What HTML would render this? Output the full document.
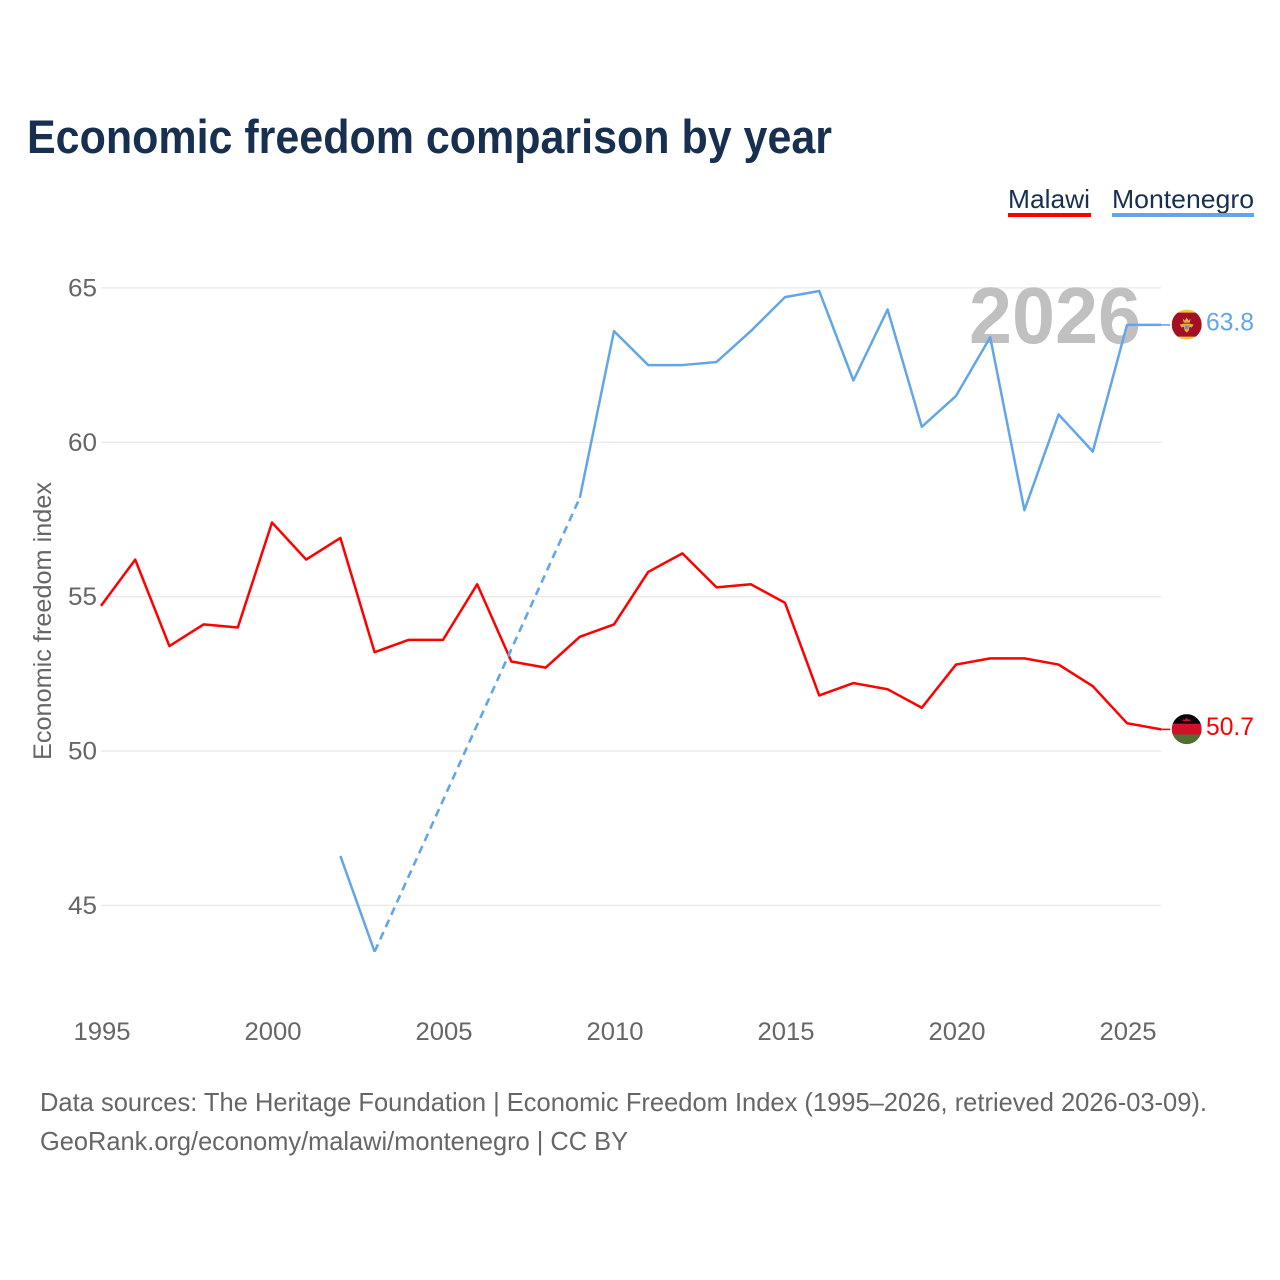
<!DOCTYPE html>
<html lang="en">
<head>
<meta charset="utf-8">
<title>Economic freedom comparison by year</title>
<style>
html,body{margin:0;padding:0;background:#fff;}
svg{display:block;}
text{font-family:"Liberation Sans",sans-serif;}
</style>
</head>
<body>
<svg id="chart" width="1280" height="1280" viewBox="0 0 1280 1280" xmlns="http://www.w3.org/2000/svg">
  <defs>
    <clipPath id="flag-clip"><circle cx="0" cy="0" r="15"></circle></clipPath>
  </defs>
  <rect x="0" y="0" width="1280" height="1280" fill="#ffffff"></rect>
  <text x="27" y="153" font-size="47" font-weight="700" fill="#18304f" textLength="805" lengthAdjust="spacingAndGlyphs">Economic freedom comparison by year</text>

  <g>
    <g>
      <text x="1008" y="208" font-size="26" fill="#18304f" textLength="82" lengthAdjust="spacingAndGlyphs">Malawi</text>
      <rect x="1008" y="213" width="83" height="4" fill="#ff0000"></rect>
    </g>
    <g>
      <text x="1112" y="208" font-size="26" fill="#18304f" textLength="142" lengthAdjust="spacingAndGlyphs">Montenegro</text>
      <rect x="1112" y="213" width="142" height="4" fill="#62a6e9"></rect>
    </g>
  </g>

  <g id="grid"></g>
  <g id="y-axis"></g>
  <g id="x-axis"></g>
  <text transform="translate(51 760) rotate(-90)" x="0" y="0" font-size="25" fill="#666666" textLength="278" lengthAdjust="spacingAndGlyphs">Economic freedom index</text>

  <text x="969" y="343" font-size="80" font-weight="700" fill="#c0c0c0" textLength="172" lengthAdjust="spacingAndGlyphs">2026</text>

  <g id="series"></g>

  <g id="flag-montenegro">
    <g clip-path="url(#flag-clip)">
      <rect x="-15" y="-15" width="30" height="30" fill="#f0c63c"></rect>
      <rect x="-15" y="-12" width="30" height="24" fill="#a50f26"></rect>
      <path d="M-4 -6 L-2 -4 L0 -7 L2 -4 L4 -6 L3 -2 L-3 -2 Z" fill="#e4b43a"></path>
      <path d="M-7 0 L-3 -1 L3 -1 L7 0 L5 3 L3 2 L2 6 L0 8 L-2 6 L-3 2 L-5 3 Z" fill="#dfae3c"></path>
      <rect x="-1.8" y="1" width="3.6" height="3.4" fill="#6f8fb5"></rect>
    </g>
  </g>
  <g id="flag-malawi">
    <g clip-path="url(#flag-clip)">
      <rect x="-15" y="-15" width="30" height="10" fill="#060606"></rect>
      <rect x="-15" y="-5.4" width="30" height="11" fill="#d2102c"></rect>
      <rect x="-15" y="5.4" width="30" height="10" fill="#4f6f33"></rect>
      <path d="M-4 -8 L-3.5 -10 L-2 -9.4 L0 -11.5 L2 -9.4 L3.5 -10 L4 -8 Z" fill="#d2102c"></path>
    </g>
  </g>
  <text id="value-montenegro" x="1206" font-size="25" fill="#62a6e9" textLength="48" lengthAdjust="spacingAndGlyphs"></text>
  <text id="value-malawi" x="1206" font-size="25" fill="#ff0000" textLength="48" lengthAdjust="spacingAndGlyphs"></text>

  <text x="40" y="1111" font-size="26" fill="#666666" textLength="1167" lengthAdjust="spacingAndGlyphs">Data sources: The Heritage Foundation | Economic Freedom Index (1995–2026, retrieved 2026-03-09).</text>
  <text x="40" y="1150" font-size="26" fill="#666666" textLength="588" lengthAdjust="spacingAndGlyphs">GeoRank.org/economy/malawi/montenegro | CC BY</text>
</svg>

<script>
const years = [1995,1996,1997,1998,1999,2000,2001,2002,2003,2004,2005,2006,2007,2008,2009,2010,2011,2012,2013,2014,2015,2016,2017,2018,2019,2020,2021,2022,2023,2024,2025,2026];
const malawi = [54.7,56.2,53.4,54.1,54.0,57.4,56.2,56.9,53.2,53.6,53.6,55.4,52.9,52.7,53.7,54.1,55.8,56.4,55.3,55.4,54.8,51.8,52.2,52.0,51.4,52.8,53.0,53.0,52.8,52.1,50.9,50.7];
const montenegro = [null,null,null,null,null,null,null,46.6,43.5,null,null,null,null,null,58.2,63.6,62.5,62.5,62.6,63.6,64.7,64.9,62.0,64.3,60.5,61.5,63.4,57.8,60.9,59.7,63.8,63.8];
const yTicks = [45,50,55,60,65];
const xTicks = [1995,2000,2005,2010,2015,2020,2025];

const SVG_NS = 'http://www.w3.org/2000/svg';
function xScale(year){ return 101 + (year - 1995) * 34.2; }
function yScale(value){ return 751 - (value - 50) * 30.875; }

function svgEl(tag, parent){
  const el = document.createElementNS(SVG_NS, tag);
  parent.appendChild(el);
  return el;
}

const gridGroup = document.getElementById('grid');
const yAxisGroup = document.getElementById('y-axis');
const xAxisGroup = document.getElementById('x-axis');
const seriesGroup = document.getElementById('series');

yTicks.forEach(function(tick){
  const line = svgEl('line', gridGroup);
  
  
  line.setAttribute('x1', xScale(1995));
  line.setAttribute('x2', xScale(2026));
  line.setAttribute('y1', yScale(tick));
  line.setAttribute('y2', yScale(tick));
  line.setAttribute('stroke', '#e8e8e8');
  line.setAttribute('stroke-width', '1.3');

  const label = svgEl('text', yAxisGroup);
  
  
  label.setAttribute('x', 68);
  label.setAttribute('y', yScale(tick) + 8.5);
  label.setAttribute('font-size', '25');
  label.setAttribute('fill', '#666666');
  label.setAttribute('textLength', '29');
  label.setAttribute('lengthAdjust', 'spacingAndGlyphs');
  label.textContent = String(tick);
});

xTicks.forEach(function(tick){
  const label = svgEl('text', xAxisGroup);
  
  
  label.setAttribute('x', xScale(tick) - 27.5);
  label.setAttribute('y', 1040);
  label.setAttribute('font-size', '25');
  label.setAttribute('fill', '#666666');
  label.setAttribute('textLength', '57');
  label.setAttribute('lengthAdjust', 'spacingAndGlyphs');
  label.textContent = String(tick);
});

function drawSeries(name, values, color){
  const solidRuns = [];
  const gapLinks = [];
  let run = [];
  let lastIndex = -1;
  values.forEach(function(value, i){
    if (value === null) {
      if (run.length) { solidRuns.push(run); run = []; }
      return;
    }
    if (lastIndex >= 0 && i - lastIndex > 1) {
      gapLinks.push([lastIndex, i]);
    }
    run.push(i);
    lastIndex = i;
  });
  if (run.length) { solidRuns.push(run); }

  gapLinks.forEach(function(link){
    const dashed = svgEl('line', seriesGroup);
    
    
    dashed.setAttribute('x1', xScale(years[link[0]]));
    dashed.setAttribute('y1', yScale(values[link[0]]));
    dashed.setAttribute('x2', xScale(years[link[1]]));
    dashed.setAttribute('y2', yScale(values[link[1]]));
    dashed.setAttribute('stroke', color);
    dashed.setAttribute('stroke-width', '2.6');
    dashed.setAttribute('stroke-dasharray', '8 5.5');
  });

  solidRuns.forEach(function(indices){
    const path = svgEl('path', seriesGroup);
    
    
    const d = indices.map(function(i, n){
      return (n ? 'L' : 'M') + xScale(years[i]) + ' ' + yScale(values[i]);
    }).join(' ');
    path.setAttribute('d', d);
    path.setAttribute('fill', 'none');
    path.setAttribute('stroke', color);
    path.setAttribute('stroke-width', '2.5');
    path.setAttribute('stroke-linejoin', 'round');
  });

  const lastValue = values[values.length - 1];
  const lastYear = years[years.length - 1];
  const connector = svgEl('line', seriesGroup);
  
  
  connector.setAttribute('x1', xScale(lastYear));
  connector.setAttribute('x2', xScale(lastYear) + 9);
  connector.setAttribute('y1', yScale(lastValue));
  connector.setAttribute('y2', yScale(lastValue));
  connector.setAttribute('stroke', color);
  connector.setAttribute('stroke-width', '1.6');

  const flagX = xScale(lastYear) + 25.5;
  document.getElementById('flag-' + name).setAttribute('transform', 'translate(' + flagX + ' ' + (yScale(lastValue) - 0.3) + ')');

  const valueLabel = document.getElementById('value-' + name);
  valueLabel.setAttribute('y', yScale(lastValue) + 5.5);
  valueLabel.textContent = lastValue.toFixed(1);
}

drawSeries('malawi', malawi, '#ff0000');
drawSeries('montenegro', montenegro, '#62a6e9');
</script>
</body>
</html>
